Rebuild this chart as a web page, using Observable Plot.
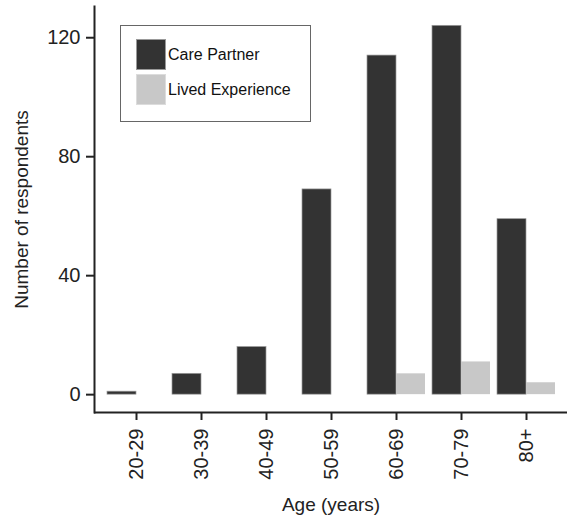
<!DOCTYPE html>
<html>
<head>
<meta charset="utf-8">
<script src="https://cdn.jsdelivr.net/npm/d3@7"></script>
<script src="https://cdn.jsdelivr.net/npm/@observablehq/plot@0.6"></script>
<style>
  html, body { margin: 0; padding: 0; background: white; }
  #wrap { position: relative; width: 567px; height: 516px; }
  #legend {
    position: absolute; left: 120px; top: 25px; width: 189px; height: 95px;
    border: 1px solid #666; background: white;
    font-family: "Liberation Sans", Arial, sans-serif; font-size: 16px; color: #111;
  }
  .row { position: absolute; left: 15px; display: flex; align-items: center; }
  .sw { width: 30px; height: 31px; box-sizing: border-box; border: 1px solid #999; margin-right: 2px; }
</style>
</head>
<body>
<div id="wrap"></div>
<script>
const ages = ["20-29", "30-39", "40-49", "50-59", "60-69", "70-79", "80+"];
const carePartner = [1, 7, 16, 69, 114, 124, 59];
const livedExperience = [0, 0, 0, 0, 7, 11, 4];
const seriesNames = ["Care Partner", "Lived Experience"];
const seriesColors = ["#333333", "#c8c8c8"];
const yTicks = [0, 40, 80, 120];

const care = ages.map((a, i) => ({age: a, value: carePartner[i]}));
const lived = ages.map((a, i) => ({age: a, value: livedExperience[i]})).filter(d => d.value > 0);

const chart = Plot.plot({
  width: 567,
  height: 516,
  marginLeft: 94,
  marginRight: 0,
  marginTop: 6,
  marginBottom: 104,
  style: {fontFamily: "Liberation Sans, Arial, sans-serif", fontSize: "20px", color: "#222", background: "white"},
  x: {domain: ages, paddingInner: 0.112, paddingOuter: 0.176},
  y: {domain: [-6, 130.5]},
  marks: [
    Plot.barY(care, {x: "age", y: "value", fill: seriesColors[0], stroke: "#9a9a9a", strokeWidth: 0.7, insetRight: 29}),
    Plot.barY(lived, {x: "age", y: "value", fill: seriesColors[1], insetLeft: 29}),
    Plot.axisX({tickSize: 8, tickRotate: -90, tickPadding: 8, strokeWidth: 2, stroke: "#222",
      label: "Age (years)", labelAnchor: "center", labelOffset: 98, labelArrow: "none", fontSize: 20}),
    Plot.axisY({ticks: yTicks, tickSize: 8, tickPadding: 6, strokeWidth: 2, stroke: "#222",
      label: "Number of respondents", labelAnchor: "center", labelOffset: 80, labelArrow: "none", fontSize: 20}),
    Plot.frame({anchor: "left", stroke: "#222", strokeWidth: 2}),
    Plot.ruleY([-6], {stroke: "#222", strokeWidth: 2})
  ]
});
document.getElementById("wrap").appendChild(chart);
chart.querySelectorAll("[aria-label$='axis label']").forEach(g => g.setAttribute("font-size", "19"));

const legend = document.createElement("div");
legend.id = "legend";
seriesNames.forEach((name, i) => {
  const row = document.createElement("div");
  row.className = "row";
  row.style.top = (13 + i * 35) + "px";
  const sw = document.createElement("div");
  sw.className = "sw";
  sw.style.background = seriesColors[i];
  if (i === 1) sw.style.borderColor = "#dcdcdc";
  const t = document.createElement("span");
  t.textContent = name;
  row.appendChild(sw);
  row.appendChild(t);
  legend.appendChild(row);
});
document.getElementById("wrap").appendChild(legend);
</script>
</body>
</html>
